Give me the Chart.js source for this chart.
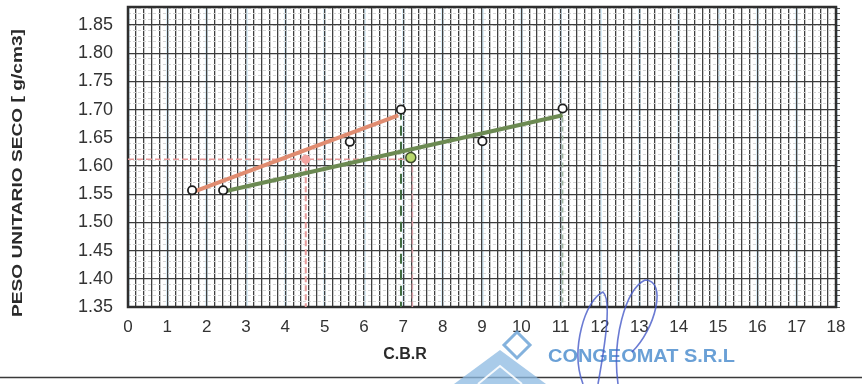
<!DOCTYPE html>
<html>
<head>
<meta charset="utf-8">
<script src="https://cdn.jsdelivr.net/npm/chart.js@4/dist/chart.umd.min.js"></script>
<style>
  html, body { margin: 0; padding: 0; background: #ffffff; }
  #wrap { width: 862px; height: 384px; position: relative; }
</style>
</head>
<body>
<div id="wrap"><canvas id="c" width="862" height="384"></canvas></div>
<script>
// Tick labels
const cbrTicks = [0, 1, 2, 3, 4, 5, 6, 7, 8, 9, 10, 11, 12, 13, 14, 15, 16, 17, 18];
const densityTicks = [1.35, 1.40, 1.45, 1.50, 1.55, 1.60, 1.65, 1.70, 1.75, 1.80, 1.85];

// Test points, first curve (orange)
const orangeCbr = [1.63, 5.64, 6.94];
const orangeDensity = [1.557, 1.643, 1.700];
// Test points, second curve (green)
const greenCbr = [2.42, 9.01, 11.05];
const greenDensity = [1.557, 1.644, 1.702];

// Fitted lines (end points)
const orangeFitCbr = [1.66, 6.87];
const orangeFitDensity = [1.554, 1.690];
const greenFitCbr = [2.38, 11.05];
const greenFitDensity = [1.554, 1.690];

// Design density read on each curve
const designOrangeCbr = 4.52;
const designGreenCbr = 7.19;
const designDensity = 1.612;
const designGreenDensity = 1.615;

const FONT = '"Liberation Sans", Arial, Helvetica, sans-serif';
const Y_MIN = 1.35, Y_MAX = 1.882;

const pts = (xs, ys) => xs.map((x, i) => ({ x, y: ys[i] }));

function ticksFrom(list) { return list.map(v => ({ value: v })); }
function stepTicks(min, max, step) {
  const out = [];
  const n = Math.round((max - min) / step);
  for (let i = 0; i <= n; i++) out.push({ value: +(min + i * step).toFixed(4) });
  return out;
}
function noPad(s) { s.paddingTop = 0; s.paddingBottom = 0; s.paddingLeft = 0; s.paddingRight = 0; }

const lineDs = (data, color, width, dash) => ({
  data, showLine: true, borderColor: color, borderWidth: width,
  borderDash: dash || [], pointRadius: 0, pointHoverRadius: 0, fill: false
});

const datasets = [
  // points on top
  { data: [{ x: designGreenCbr, y: designGreenDensity }], pointRadius: 5, pointBackgroundColor: '#b9d86c', pointBorderColor: '#3c4a2c', pointBorderWidth: 1.5 },
  { data: [{ x: designOrangeCbr, y: designDensity }], pointRadius: 4.5, pointBackgroundColor: '#f3a3a0', pointBorderColor: '#f3a3a0', pointBorderWidth: 0 },
  { data: pts(orangeCbr, orangeDensity), pointRadius: 4.2, pointBackgroundColor: '#ffffff', pointBorderColor: '#1e1e1e', pointBorderWidth: 1.8 },
  { data: pts(greenCbr, greenDensity), pointRadius: 4.2, pointBackgroundColor: '#ffffff', pointBorderColor: '#1e1e1e', pointBorderWidth: 1.8 },
  // fitted lines
  lineDs(pts(orangeFitCbr, orangeFitDensity), '#e08c70', 4),
  lineDs(pts(greenFitCbr, greenFitDensity), '#6c8a52', 4),
  // projection lines
  lineDs([{ x: 0, y: designDensity }, { x: designGreenCbr, y: designDensity }], '#e79a9a', 1.5, [6, 3]),
  lineDs([{ x: designOrangeCbr, y: designDensity }, { x: designOrangeCbr, y: Y_MIN }], '#e79a9a', 2, [6, 3]),
  lineDs([{ x: designGreenCbr + 0.04, y: designGreenDensity }, { x: designGreenCbr + 0.04, y: Y_MIN }], '#d9a0a8', 1.5, [6, 3]),
  lineDs([{ x: orangeCbr[2], y: orangeDensity[2] }, { x: orangeCbr[2], y: Y_MIN }], '#3f6b3f', 2, [10, 6]),
  lineDs([{ x: greenCbr[2], y: greenDensity[2] }, { x: greenCbr[2], y: Y_MIN }], '#a3b8a3', 1.5, [5, 4])
];

const decor = {
  id: 'decor',
  beforeDatasetsDraw(chart) {
    const { ctx, chartArea: a } = chart;
    ctx.save();
    ctx.strokeStyle = '#2e2e2e';
    ctx.lineWidth = 2.5;
    ctx.strokeRect(a.left, a.top, a.right - a.left, a.bottom - a.top);
    ctx.restore();
  },
  afterDraw(chart) {
    const { ctx } = chart;
    ctx.save();
    // y axis title
    ctx.translate(18, 173);
    ctx.rotate(-Math.PI / 2);
    ctx.font = 'bold 15px ' + FONT;
    const t = 'PESO UNITARIO SECO [ g/cm3]';
    const w = ctx.measureText(t).width;
    ctx.scale(288 / w, 1);
    ctx.fillStyle = '#2a2a2a';
    ctx.textAlign = 'center';
    ctx.textBaseline = 'middle';
    ctx.fillText(t, 0, 0);
    ctx.restore();

    ctx.save();
    ctx.fillStyle = '#2a2a2a';
    ctx.font = 'bold 16px ' + FONT;
    ctx.textAlign = 'center';
    ctx.textBaseline = 'middle';
    ctx.fillText('C.B.R', 405, 355);

    // rule under the chart
    ctx.strokeStyle = '#3a3a3a';
    ctx.lineWidth = 1.5;
    ctx.beginPath(); ctx.moveTo(0, 377.5); ctx.lineTo(862, 377.5); ctx.stroke();

    // company mark
    ctx.strokeStyle = 'rgba(110,165,215,0.85)';
    ctx.fillStyle = 'rgba(140,185,225,0.75)';
    ctx.lineWidth = 3;
    ctx.beginPath();
    ctx.moveTo(517, 332); ctx.lineTo(530, 345); ctx.lineTo(517, 358); ctx.lineTo(504, 345); ctx.closePath();
    ctx.stroke();
    ctx.beginPath();
    ctx.moveTo(500, 350); ctx.lineTo(546, 384); ctx.lineTo(454, 384); ctx.closePath();
    ctx.fill();
    ctx.strokeStyle = 'rgba(255,255,255,0.9)';
    ctx.lineWidth = 2;
    ctx.beginPath(); ctx.moveTo(478, 384); ctx.lineTo(500, 366); ctx.lineTo(522, 384); ctx.stroke();

    ctx.fillStyle = 'rgba(90,150,210,0.9)';
    ctx.font = 'bold 19px ' + FONT;
    ctx.textAlign = 'left';
    const label = 'CONGEOMAT S.R.L';
    const lw = ctx.measureText(label).width;
    ctx.translate(548, 357);
    ctx.scale(187 / lw, 1);
    ctx.fillText(label, 0, 0);
    ctx.restore();

    // signature
    ctx.save();
    ctx.strokeStyle = 'rgba(70,90,200,0.8)';
    ctx.lineWidth = 1.6;
    ctx.beginPath();
    ctx.moveTo(583, 384);
    ctx.bezierCurveTo(570, 350, 585, 300, 603, 292);
    ctx.bezierCurveTo(612, 300, 605, 345, 598, 384);
    ctx.stroke();
    ctx.beginPath();
    ctx.moveTo(618, 384);
    ctx.bezierCurveTo(612, 340, 625, 290, 645, 280);
    ctx.bezierCurveTo(668, 280, 655, 330, 632, 352);
    ctx.stroke();
    ctx.restore();
  }
};

new Chart(document.getElementById('c'), {
  type: 'scatter',
  data: { datasets },
  options: {
    responsive: false,
    devicePixelRatio: 1,
    animation: false,
    layout: { padding: { left: 0, top: 7, right: 20, bottom: 0 } },
    plugins: { legend: { display: false }, tooltip: { enabled: false } },
    scales: {
      x: {
        type: 'linear', position: 'bottom', min: 0, max: 18,
        afterBuildTicks: s => { s.ticks = ticksFrom(cbrTicks); },
        afterFit: s => { s.height = 77; noPad(s); },
        ticks: { font: { family: FONT, size: 17 }, color: '#333333', padding: 10, maxRotation: 0, autoSkip: false },
        grid: { drawTicks: false, color: 'rgba(170,215,240,0.4)', lineWidth: 3 },
        border: { display: false }
      },
      xMinor: {
        type: 'linear', position: 'bottom', min: 0, max: 18,
        afterBuildTicks: s => { s.ticks = stepTicks(0, 18, 0.2); },
        afterFit: s => { s.height = 0; noPad(s); },
        ticks: { display: false },
        grid: { drawTicks: false, color: '#404040', lineWidth: 1.3 },
        border: { display: false }
      },
      yMinor: {
        type: 'linear', position: 'left', min: Y_MIN, max: Y_MAX,
        afterBuildTicks: s => { s.ticks = stepTicks(1.35, 1.88, 0.01); },
        afterFit: s => { s.width = 0; noPad(s); },
        ticks: { display: false },
        grid: { drawTicks: false, color: '#d4d4d4', lineWidth: 1 },
        border: { display: false, dash: [3, 2] }
      },
      y: {
        type: 'linear', position: 'left', min: Y_MIN, max: Y_MAX,
        afterBuildTicks: s => { s.ticks = ticksFrom(densityTicks); },
        afterFit: s => { s.width = 128; noPad(s); },
        ticks: { font: { family: FONT, size: 18 }, color: '#333333', padding: 15, callback: v => v.toFixed(2) },
        grid: { drawTicks: false, color: '#3c3c3c', lineWidth: 1.3 },
        border: { display: false }
      },
      yRight: {
        type: 'linear', position: 'right', min: Y_MIN, max: Y_MAX,
        afterBuildTicks: s => { s.ticks = stepTicks(1.35, 1.88, 0.01); },
        afterFit: s => { s.width = 6; noPad(s); },
        ticks: { display: false },
        grid: { drawOnChartArea: false, drawTicks: true, tickLength: 4, color: '#555555', lineWidth: 1 },
        border: { display: false }
      }
    }
  },
  plugins: [decor]
});
</script>
</body>
</html>
